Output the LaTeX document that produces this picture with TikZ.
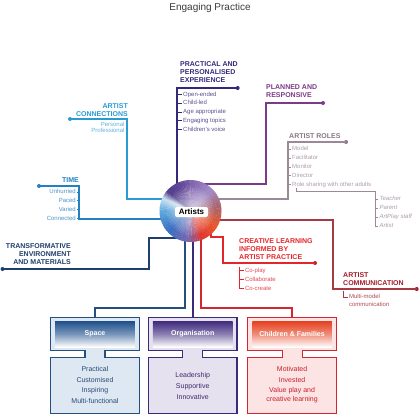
\documentclass[tikz,border=0pt]{standalone}
\usepackage{fontspec}
\setmainfont{Liberation Sans}
\definecolor{cTitle}{HTML}{3A3A3A}
\definecolor{cConn}{HTML}{2B9AD3}
\definecolor{cConnT}{HTML}{62B0DC}
\definecolor{cTime}{HTML}{2281C2}
\definecolor{cTimeT}{HTML}{4A93C8}
\definecolor{cTrans}{HTML}{1F3E6C}
\definecolor{cPract}{HTML}{33297A}
\definecolor{cPractT}{HTML}{5A4E8E}
\definecolor{cPlan}{HTML}{7B3A8A}
\definecolor{cRoles}{HTML}{9C8896}
\definecolor{cRolesH}{HTML}{8A7583}
\definecolor{cRolesT}{HTML}{AC9DA8}
\definecolor{cCreat}{HTML}{E2262B}
\definecolor{cCreatT}{HTML}{E04850}
\definecolor{cComm}{HTML}{A11C2A}
\definecolor{cCommL}{HTML}{A63A42}
\definecolor{cCommT}{HTML}{B04A55}
\definecolor{cSpace}{HTML}{24507F}
\definecolor{cSpaceF}{HTML}{DDE8F3}
\definecolor{cSpaceH}{HTML}{1E4F8C}
\definecolor{cSpaceT}{HTML}{2A4A75}
\definecolor{cOrg}{HTML}{3B2A7A}
\definecolor{cOrgF}{HTML}{E6E1EF}
\definecolor{cOrgH}{HTML}{3F2A7E}
\definecolor{cOrgT}{HTML}{3B2C6E}
\definecolor{cChild}{HTML}{D42630}
\definecolor{cChildF}{HTML}{FBE4E3}
\definecolor{cChildH}{HTML}{E5401F}
\definecolor{cChildT}{HTML}{C8202C}
\definecolor{sA}{HTML}{4F3A8A}
\definecolor{sAA}{HTML}{5E4396}
\definecolor{sB}{HTML}{7E62AE}
\definecolor{sC}{HTML}{A48CC8}
\definecolor{sD}{HTML}{A86470}
\definecolor{sE}{HTML}{E8582E}
\definecolor{sF}{HTML}{E2362E}
\definecolor{sG}{HTML}{7A6AB4}
\definecolor{sH}{HTML}{3A6CC0}
\definecolor{sI}{HTML}{5EAADE}
\definecolor{sJ}{HTML}{D0E2F2}
\tikzset{
  conn/.style={line width=1.1pt},
  tickline/.style={line width=0.5pt},
  hd/.style={font=\fontsize{7}{8}\selectfont\bfseries, inner sep=0pt},
  itm/.style={font=\fontsize{6}{7}\selectfont, inner sep=0pt, outer sep=1.2pt, text height=4.4pt, text depth=1.2pt},
  dotn/.style={circle, fill, inner sep=0pt, minimum size=4pt},
  boxtxt/.style={font=\fontsize{7}{8}\selectfont, inner sep=0pt, text height=5pt, text depth=1.4pt},
  boxhd/.style={font=\fontsize{7}{8}\selectfont\bfseries, text=white, inner sep=0pt},
}
\newcommand\drawibox[6]{%
  \pgfmathsetmacro\bL{#1}\pgfmathsetmacro\bR{#1+88.6}\pgfmathsetmacro\bC{#1+44.3}%
  \pgfmathsetmacro\nL{\bC-10}\pgfmathsetmacro\nR{\bC+10}%
  \draw[line width=1.2pt, draw=#2, fill=#3] (\bL,317.3) -- (\bR,317.3) -- (\bR,350.7) -- (\nR,350.7) -- (\nR,357.3) -- (\bR,357.3) -- (\bR,413.5) -- (\bL,413.5) -- (\bL,357.3) -- (\nL,357.3) -- (\nL,350.7) -- (\bL,350.7) -- cycle;
  \shade[top color=#4, bottom color=white, middle color=#4!60!white] (\bL+4.5,321) rectangle (\bR-4.5,347);
  \node[boxhd] (#5) at (\bC,334) {#6};
}
\begin{document}
\begin{tikzpicture}[x=1pt,y=-1pt]
\useasboundingbox (0,0) rectangle (420,416);

\node[font=\fontsize{10}{12}\selectfont, text=cTitle, inner sep=0pt] (title) at (210,8) {Engaging Practice};

\node[circle, minimum size=62pt, inner sep=0pt] (circ) at (190.5,211) {};

% ---------- dots
\node[dotn, cConn] (dConn) at (70,119) {};
\node[dotn, cTime] (dTime) at (39,186) {};
\node[dotn, cTrans] (dTrans) at (2.5,269) {};
\node[dotn, cPract] (dPract) at (237.7,88) {};
\node[dotn, cPlan] (dPlan) at (323,103) {};
\node[dotn, cRolesH] (dRoles) at (346,142) {};
\node[dotn, cCreat!85!black] (dCreat) at (315,263) {};
\node[dotn, cComm] (dComm) at (416.7,289) {};

% ---------- bend coordinates
\coordinate (cA) at (127,119); \coordinate (cB) at (127,199);
\coordinate (tA) at (79,186); \coordinate (tB) at (79,219);
\coordinate (trA) at (149,269); \coordinate (trB) at (149,238);
\coordinate (pA) at (177,88); \coordinate (pB) at (177,184);
\coordinate (plA) at (266,103); \coordinate (plB) at (266,184);
\coordinate (rA) at (288,142); \coordinate (rB) at (288,199);
\coordinate (cmA) at (333,289); \coordinate (cmB) at (333,220);
\coordinate (crA) at (223,263); \coordinate (crB) at (223,237); \coordinate (crC) at (211,237);
\coordinate (spA) at (185,308); \coordinate (spB) at (95,308); \coordinate (spC) at (95,317.3);
\coordinate (orB) at (193,317.3);
\coordinate (chA) at (201,308); \coordinate (chB) at (292,308); \coordinate (chC) at (292,317.3);

% ---------- connectors
\draw[conn, cConn] (dConn.center) -- (cA) -- (cB) -- (cB -| circ.center);
\draw[conn, cTime] (dTime.center) -- (tA) -- (tB) -- (tB -| circ.center);
\draw[conn, cTrans] (dTrans.center) -- (trA) -- (trB) -- (trB -| circ.center);
\draw[conn, cPract] (dPract.center) -- (pA) -- (pB) -- (pB -| circ.center);
\draw[conn, cPlan] (dPlan.center) -- (plA) -- (plB) -- (plB -| circ.center);
\draw[conn, cRoles] (dRoles.center) -- (rA) -- (rB) -- (rB -| circ.center);
\draw[conn, cCommL] (dComm.center) -- (cmA) -- (cmB) -- (cmB -| circ.center);
\draw[conn, cCreat] (dCreat.center) -- (crA) -- (crB) -- (crC) -- (crC |- circ.center);
\draw[conn, cSpace] (spA |- circ.center) -- (spA) -- (spB) -- (spC);
\draw[conn, cOrg] (orB |- circ.center) -- (orB);
\draw[conn, cChild] (chA |- circ.center) -- (chA) -- (chB) -- (chC);

% ---------- circle (smooth colour wheel)
\begin{scope}[shift={(190.5,211)}, x=1pt, y=1pt]
  \foreach \a/\ca/\b/\cb in {-180/sI/-135/sH, -135/sH/-95/sG, -95/sG/-65/sF, -65/sF/-30/sE, -30/sE/10/sD, 10/sD/45/sC, 45/sC/90/sB, 90/sB/115/sAA, 115/sAA/140/sA, 140/sA/155/sJ, 155/sJ/180/sI}{
    \foreach \k in {0,...,7}{
      \pgfmathsetmacro\s{\a+(\b-\a)*\k/8}
      \pgfmathsetmacro\e{\a+(\b-\a)*(\k+1)/8+0.4}
      \pgfmathtruncatemacro\p{100-100*(\k+0.5)/8}
      \fill[\ca!\p!\cb] (0,0) -- (\s:31) arc[start angle=\s, end angle=\e, radius=31] -- cycle;
    }
  }
  \foreach \r in {24,22,...,1}
    \fill[white, opacity=0.075] (0,0) circle (\r);
\end{scope}
\node[fill=white, rounded corners=2pt, minimum width=33pt, minimum height=10pt, inner sep=0pt, font=\fontsize{8}{9}\selectfont\bfseries] (artists) at (191.5,212) {Artists};

% ---------- headings
\node[hd, cConn, anchor=south east, align=right] (hConn) at (128,116.5) {ARTIST\\CONNECTIONS};
\node[hd, cTime, anchor=south east] (hTime) at (79,182.5) {TIME};
\node[hd, cTrans, anchor=south east, align=right] (hTrans) at (71,265) {TRANSFORMATIVE\\ENVIRONMENT\\AND MATERIALS};
\node[hd, cPract, anchor=south west, align=left] (hPract) at (180,82.5) {PRACTICAL AND\\PERSONALISED\\EXPERIENCE};
\node[hd, cPlan, anchor=south west, align=left] (hPlan) at (266,97.5) {PLANNED AND\\RESPONSIVE};
\node[hd, cRolesH, anchor=south west] (hRoles) at (289,138.5) {ARTIST ROLES};
\node[hd, cCreat, anchor=south west, align=left] (hCreat) at (239,260) {CREATIVE LEARNING\\INFORMED BY\\ARTIST PRACTICE};
\node[hd, cComm, anchor=south west, align=left] (hComm) at (343,285.5) {ARTIST\\COMMUNICATION};

% ---------- items: artist connections
\node[itm, cConnT, anchor=east] (iPers) at (125.7,125) {Personal};
\node[itm, cConnT, anchor=east] (iProf) at (125.7,130.7) {Professional};
\foreach \n in {iPers,iProf} \draw[tickline, cConn] (\n.east) -- (\n.east -| cA);

% ---------- items: time
\node[itm, cTimeT, anchor=east] (iUnh) at (77,192) {Unhurried};
\node[itm, cTimeT, anchor=east] (iPac) at (77,200.7) {Paced};
\node[itm, cTimeT, anchor=east] (iVar) at (77,209.5) {Varied};
\node[itm, cTimeT, anchor=east] (iCon) at (77,218.5) {Connected};
\foreach \n in {iUnh,iPac,iVar,iCon} \draw[tickline, cTime] (\n.east) -- (\n.east -| tA);

% ---------- items: practical
\node[itm, cPractT, anchor=west] (iOpen) at (182,94.5) {Open-ended};
\node[itm, cPractT, anchor=west] (iChild) at (182,103) {Child-led};
\node[itm, cPractT, anchor=west] (iAge) at (182,111.8) {Age appropriate};
\node[itm, cPractT, anchor=west] (iEng) at (182,120.6) {Engaging topics};
\node[itm, cPractT, anchor=west] (iVoice) at (182,129.4) {Children’s voice};
\foreach \n in {iOpen,iChild,iAge,iEng,iVoice} \draw[tickline, cPract] (\n.west) -- (\n.west -| pA);

% ---------- items: artist roles
\node[itm, cRolesT, anchor=west] (iModel) at (291,149.3) {Model};
\node[itm, cRolesT, anchor=west] (iFac) at (291,158) {Facilitator};
\node[itm, cRolesT, anchor=west] (iMon) at (291,166.8) {Monitor};
\node[itm, cRolesT, anchor=west] (iDir) at (291,175.7) {Director};
\node[itm, cRolesT, anchor=west] (iRole) at (291,184.6) {Role sharing with other adults};
\foreach \n in {iModel,iFac,iMon,iDir,iRole} \draw[tickline, cRoles] (\n.west) -- (\n.west -| rA);
\coordinate (rsA) at (296.7,188); \coordinate (rsB) at (296.7,191); \coordinate (rsC) at (375,191); \coordinate (rsD) at (375,226);
\draw[line width=0.6pt, cRoles] (rsA) -- (rsB) -- (rsC) -- (rsD);
\node[itm, cRolesT, anchor=west, font=\fontsize{6}{7}\selectfont\itshape] (iTeach) at (378.3,199.3) {Teacher};
\node[itm, cRolesT, anchor=west, font=\fontsize{6}{7}\selectfont\itshape] (iPar) at (378.3,208.2) {Parent};
\node[itm, cRolesT, anchor=west, font=\fontsize{6}{7}\selectfont\itshape] (iStaff) at (378.3,217.1) {ArtPlay staff};
\node[itm, cRolesT, anchor=west, font=\fontsize{6}{7}\selectfont\itshape] (iArt) at (378.3,226) {Artist};
\foreach \n in {iTeach,iPar,iStaff,iArt} \draw[tickline, cRoles] (\n.west) -- (\n.west -| rsC);

% ---------- items: creative
\node[itm, cCreatT, anchor=west] (iPlay) at (243.8,270.7) {Co-play};
\node[itm, cCreatT, anchor=west] (iColl) at (243.8,279.7) {Collaborate};
\node[itm, cCreatT, anchor=west] (iCre) at (243.8,288.7) {Co-create};
\coordinate (crV) at (239,266.5);
\draw[tickline, cCreat] (crV) -- (crV |- iCre.west);
\foreach \n in {iPlay,iColl,iCre} \draw[tickline, cCreat] (\n.west) -- (\n.west -| crV);

% ---------- items: communication
\node[itm, cCommT, anchor=west] (iMulti) at (347.8,297) {Multi-model};
\node[itm, cCommT, anchor=west] (iComm) at (347.8,304.6) {communication};
\coordinate (cmV) at (343,290.5);
\draw[tickline, cCommL] (cmV) -- (cmV |- iMulti.west) -- (iMulti.west);

% ---------- bottom boxes
\drawibox{50.7}{cSpace}{cSpaceF}{cSpaceH}{bSpace}{Space}
\drawibox{148.4}{cOrg}{cOrgF}{cOrgH}{bOrg}{Organisation}
\drawibox{247.8}{cChild}{cChildF}{cChildH}{bChild}{Children \& Families}

\node[boxtxt, cSpaceT] (tPr) at (95,369.3) {Practical};
\node[boxtxt, cSpaceT] (tCu) at (95,380.2) {Customised};
\node[boxtxt, cSpaceT] (tIn) at (95,391) {Inspiring};
\node[boxtxt, cSpaceT] (tMf) at (95,402) {Multi-functional};

\node[boxtxt, cOrgT] (tLe) at (192.7,375.7) {Leadership};
\node[boxtxt, cOrgT] (tSu) at (192.7,386.6) {Supportive};
\node[boxtxt, cOrgT] (tIv) at (192.7,397.4) {Innovative};

\node[boxtxt, cChildT] (tMo) at (292.1,369.3) {Motivated};
\node[boxtxt, cChildT] (tIs) at (292.1,380.2) {Invested};
\node[boxtxt, cChildT] (tVa) at (292.1,391) {Value play and};
\node[boxtxt, cChildT] (tCr) at (292.1,399.8) {creative learning};
\end{tikzpicture}
\end{document}
